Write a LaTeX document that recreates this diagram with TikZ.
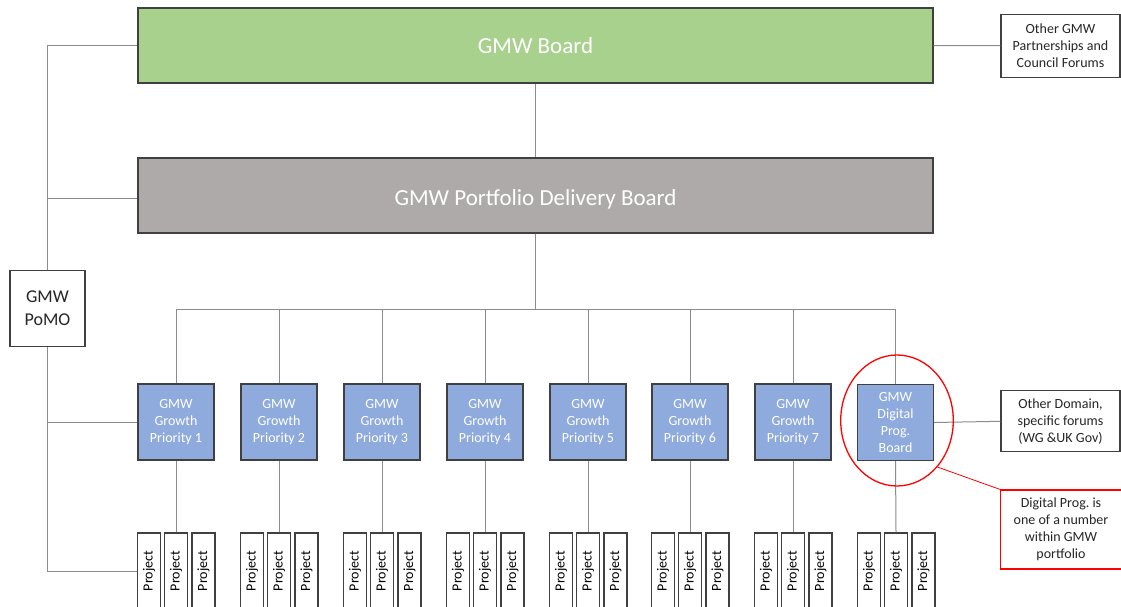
\documentclass[tikz,border=0pt]{standalone}
\usepackage{fontspec}
\setmainfont{Carlito}
\frenchspacing
\usetikzlibrary{shapes.geometric}
\definecolor{boardgreen}{HTML}{A9D18E}
\definecolor{pdbgray}{HTML}{AEAAAA}
\definecolor{gpblue}{HTML}{8FAADC}
\definecolor{edge}{HTML}{404040}
\definecolor{conncol}{HTML}{8C8C8C}
\definecolor{txt}{HTML}{262626}
\definecolor{alert}{HTML}{FF0000}
\tikzset{
  box/.style={draw=edge, line width=1.3pt, inner sep=0pt, align=center},
  bigbox/.style={box, minimum width=795pt, minimum height=75pt, text=white, font=\fontsize{23}{27}\selectfont},
  gp/.style={box, fill=gpblue, text=white, minimum width=76pt, minimum height=76pt, font=\fontsize{14}{17}\selectfont},
  side/.style={box, fill=white, text=txt, minimum width=119pt, font=\fontsize{14}{17}\selectfont},
  proj/.style={box, fill=white, text=black, minimum width=23pt, minimum height=76pt, font=\fontsize{14}{17}\selectfont},
  conn/.style={draw=conncol, line width=1pt},
  redline/.style={draw=alert, line width=1.2pt}
}
\begin{document}
\begin{tikzpicture}[x=1pt,y=-1pt]
\useasboundingbox (0,0) rectangle (1121,607);
\fill[white] (0,0) rectangle (1121,607);
% main boards
\node[bigbox, fill=boardgreen] (board) at (535.5,45.5) {GMW Board};
\node[bigbox, fill=pdbgray, text height=24pt, text depth=5pt] (pdb) at (535.5,195.5) {GMW Portfolio Delivery Board};
\node[box, fill=white, text=txt, minimum width=75pt, minimum height=76pt, font=\fontsize{18}{23}\selectfont] (pomo) at (47.5,308.3) {GMW\\PoMO};
\node[side, minimum height=63pt] (other) at (1060.5,45.7) {Other GMW\\Partnerships and\\Council Forums};
\node[side, minimum height=61pt] (domain) at (1060.5,421.3) {Other Domain,\\specific forums\\(WG \&UK Gov)};
\coordinate (bus) at (535.5,309);
% connectors top
\draw[conn] (board.south) -- (pdb.north);
\draw[conn] (board.east) -- (other.west);
% growth priorities
\foreach \L/\n [count=\i] in {138/1,241/2,344/3,447/4,550/5,652/6,755/7}{
  \node[gp] (gp\i) at ({\L+38},422) {GMW\\Growth\\Priority \n};
}
\node[gp] (gp8) at (895.5,422.5) {GMW\\Digital\\Prog.\\Board};
\foreach \L [count=\i] in {138,241,344,447,550,652,755,858}{
  \foreach \d [count=\j] in {11,38,65.5}{
    \node[proj] (p\i\j) at ({\L+\d},571) {\rotatebox{90}{Project}};
  }
  \draw[conn] (pdb.south) -- (bus) -| (gp\i.north);
  \draw[conn] (gp\i.south) -- (p\i2.north);
}
\draw[conn] (gp8.east) -- (domain.west);
% PoMO connections
\draw[conn] (board.west) -| (pomo.north);
\draw[conn] (pdb.west) ++(0,2.5) -| (pomo.north);
\draw[conn] (gp1.west) -| (pomo.south);
\draw[conn] (p11.west) -| (pomo.south);
% highlight
\node[ellipse, draw=alert, line width=1.3pt, minimum width=112.6pt, minimum height=131pt, inner sep=0pt] (circ) at (897,420.5) {};
\node[box, draw=alert, fill=white, text=txt, minimum width=121pt, minimum height=79pt, font=\fontsize{14}{17}\selectfont] (note) at (1061,529.5) {Digital Prog. is\\one of a number\\within GMW\\portfolio};
\draw[redline, line width=0.8pt] (circ.-49.5) -- (note.north west);
\end{tikzpicture}
\end{document}
